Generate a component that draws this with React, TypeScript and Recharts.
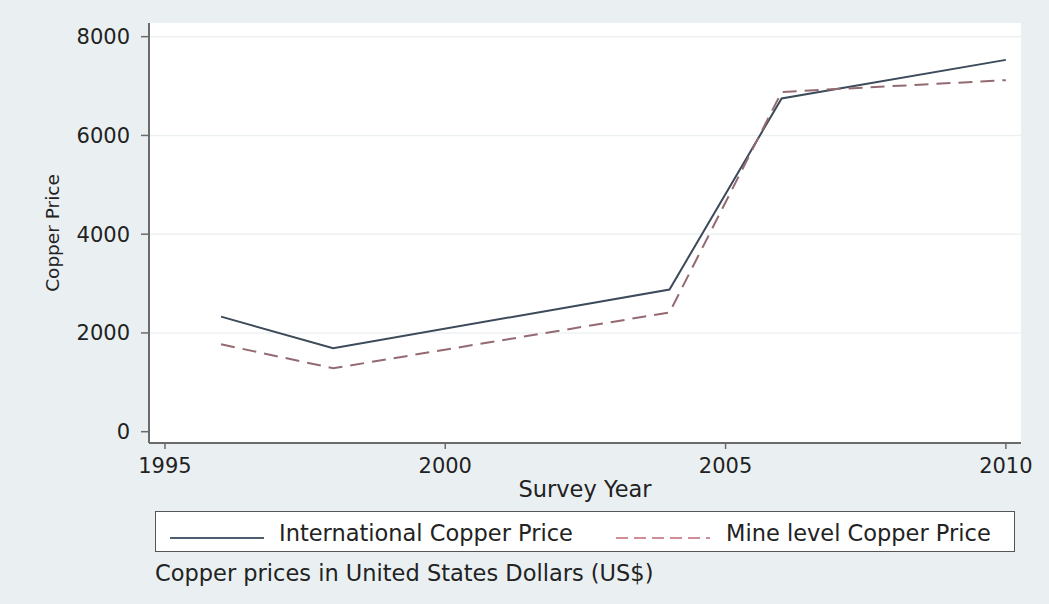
import React from "react";
import {
  CartesianGrid,
  Legend,
  Line,
  LineChart,
  XAxis,
  YAxis,
} from "recharts";

// survey years and prices (US$ per tonne)
const years = [1996, 1998, 2004, 2006, 2010];
const internationalPrice = [2330, 1690, 2880, 6750, 7530];
const mineLevelPrice = [1770, 1285, 2415, 6880, 7120];

const yearTicks = [1995, 2000, 2005, 2010];
const priceTicks = [0, 2000, 4000, 6000, 8000];
const gridValues = [2000, 4000, 6000, 8000];

const data = years.map((year, i) => ({
  year,
  international: internationalPrice[i],
  mine: mineLevelPrice[i],
}));

const FONT = "'DejaVu Sans', sans-serif";
const TEXT = "#222";
const AXIS = "#6b6b6b";
const BG = "#eaf0f2";

const seriesStyle: Record<string, { legendColor: string; dash?: string }> = {
  "International Copper Price": { legendColor: "#4d5e70" },
  "Mine level Copper Price": { legendColor: "#d08e96", dash: "12 6" },
};

function LegendBox(props: any) {
  const items = props.payload || [];
  const slots = [
    { line: 14, text: 123 },
    { line: 460, text: 570 },
  ];
  return (
    <div style={{ position: "relative", width: 860, height: 80 }}>
      <div
        style={{
          position: "absolute",
          left: 0,
          top: 0,
          width: 860,
          height: 41,
          boxSizing: "border-box",
          background: "#fff",
          border: "1.5px solid #555",
        }}
      >
        {items.map((item: any, i: number) => {
          const st = seriesStyle[item.value] || { legendColor: item.color };
          const slot = slots[i];
          return (
            <React.Fragment key={item.value}>
              <svg
                width={94}
                height={4}
                style={{ position: "absolute", left: slot.line, top: 24 }}
              >
                <line
                  x1={0}
                  y1={2}
                  x2={94}
                  y2={2}
                  stroke={st.legendColor}
                  strokeWidth={2}
                  strokeDasharray={st.dash}
                />
              </svg>
              <span
                style={{
                  position: "absolute",
                  left: slot.text,
                  top: 8,
                  fontFamily: FONT,
                  fontSize: 22.5,
                  lineHeight: "26px",
                  color: TEXT,
                  whiteSpace: "nowrap",
                }}
              >
                {item.value}
              </span>
            </React.Fragment>
          );
        })}
      </div>
      <div
        style={{
          position: "absolute",
          left: 0,
          top: 49,
          fontFamily: FONT,
          fontSize: 22.5,
          lineHeight: "26px",
          color: TEXT,
          whiteSpace: "nowrap",
        }}
      >
        Copper prices in United States Dollars (US$)
      </div>
    </div>
  );
}

export default function App() {
  return (
    <div
      style={{
        position: "absolute",
        left: 0,
        top: 0,
        width: 1049,
        height: 604,
        background: BG,
      }}
    >
      <LineChart
        width={1049}
        height={604}
        data={data}
        margin={{ top: 23, right: 28, bottom: 101, left: 69 }}
      >
        <CartesianGrid
          vertical={false}
          horizontalValues={gridValues}
          stroke="#eef1f2"
          strokeWidth={1.5}
          fill="#ffffff"
          fillOpacity={1}
        />
        <XAxis
          type="number"
          dataKey="year"
          domain={[1994.715, 2010.27]}
          ticks={yearTicks}
          allowDataOverflow
          height={60}
          tickSize={6}
          tickMargin={9}
          axisLine={{ stroke: AXIS, strokeWidth: 2 }}
          tickLine={{ stroke: AXIS, strokeWidth: 1.5 }}
          tick={{ fill: TEXT, fontSize: 21, fontFamily: FONT }}
          label={{
            value: "Survey Year",
            position: "insideBottom",
            offset: 6,
            fill: TEXT,
            fontSize: 22.5,
            fontFamily: FONT,
          }}
        />
        <YAxis
          type="number"
          domain={[-229, 8277]}
          ticks={priceTicks}
          allowDataOverflow
          width={80}
          tickSize={8}
          tickMargin={11}
          axisLine={{ stroke: AXIS, strokeWidth: 2 }}
          tickLine={{ stroke: AXIS, strokeWidth: 1.5 }}
          tick={{ fill: TEXT, fontSize: 21, fontFamily: FONT }}
          label={{
            value: "Copper Price",
            position: "center",
            angle: -90,
            dx: -57,
            fill: TEXT,
            fontSize: 18.5,
            fontFamily: FONT,
          }}
        />
        <Line
          type="linear"
          dataKey="international"
          name="International Copper Price"
          stroke="#3c4a5a"
          strokeWidth={2}
          dot={false}
          activeDot={false}
          isAnimationActive={false}
        />
        <Line
          type="linear"
          dataKey="mine"
          name="Mine level Copper Price"
          stroke="#946a72"
          strokeWidth={2}
          strokeDasharray="14 8"
          dot={false}
          activeDot={false}
          isAnimationActive={false}
        />
        <Legend
          layout="horizontal"
          verticalAlign="middle"
          align="center"
          content={LegendBox}
          wrapperStyle={{ left: 155, top: 511, width: 860, height: 80 }}
        />
      </LineChart>
    </div>
  );
}
